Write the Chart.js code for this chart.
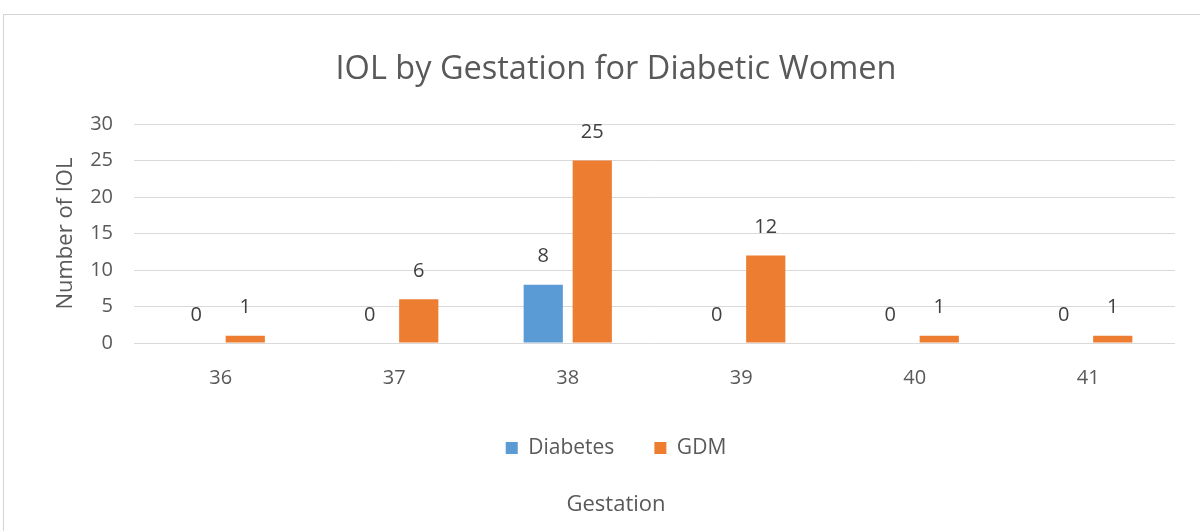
<!DOCTYPE html>
<html>
<head>
<meta charset="utf-8">
<script src="https://cdn.jsdelivr.net/npm/chart.js@4"></script>
<style>
  html, body { margin: 0; padding: 0; background: #fff; }
  #wrap { position: relative; width: 1200px; height: 531px; }
  #frame {
    position: absolute; left: 3px; top: 14px; width: 1210px; height: 530px;
    border-left: 1px solid #d4d4d4; border-top: 1px solid #d4d4d4;
    pointer-events: none;
  }
</style>
</head>
<body>
<div id="wrap">
  <canvas id="iolChart" width="1200" height="531"></canvas>
  <div id="frame"></div>
</div>
<script>
// gestation weeks and IOL counts
const gestations = ['36', '37', '38', '39', '40', '41'];
const diabetesCounts = [0, 0, 8, 0, 0, 0];
const gdmCounts = [1, 6, 25, 12, 1, 1];
const yTicks = [0, 5, 10, 15, 20, 25, 30];

const textColor = '#595959';
const fontFamily = '"Open Sans", sans-serif';

// value labels drawn above each bar (like Excel data labels)
const barLabels = {
    id: 'barLabels',
    afterDatasetsDraw(chart) {
        const ctx = chart.ctx;
        ctx.save();
        ctx.font = '20px ' + fontFamily;
        ctx.fillStyle = '#404040';
        ctx.textAlign = 'center';
        ctx.textBaseline = 'middle';
        chart.data.datasets.forEach((ds, i) => {
            chart.getDatasetMeta(i).data.forEach((bar, j) => {
                ctx.fillText(String(ds.data[j]), bar.x, bar.y - 28);
            });
        });
        ctx.restore();
    }
};

new Chart(document.getElementById('iolChart').getContext('2d'), {
    type: 'bar',
    data: {
        labels: gestations,
        datasets: [{
            label: 'Diabetes',
            data: diabetesCounts,
            backgroundColor: '#5b9bd5'
        }, {
            label: 'GDM',
            data: gdmCounts,
            backgroundColor: '#ed7d31'
        }]
    },
    options: {
        responsive: false,
        animation: false,
        categoryPercentage: 0.565,
        barPercentage: 0.8,
        // left padding shifts the centred title / legend to the right like the original
        layout: { padding: { left: 57, right: 25, top: 0, bottom: 0 } },
        plugins: {
            title: {
                display: true,
                text: 'IOL by Gestation for Diabetic Women',
                color: textColor,
                font: { family: fontFamily, size: 32.5, weight: 'normal' },
                padding: { top: 50, bottom: 35 }
            },
            subtitle: {
                display: true,
                position: 'bottom',
                text: 'Gestation',
                color: textColor,
                font: { family: fontFamily, size: 22, weight: 'normal' },
                padding: { top: 23, bottom: 13 }
            },
            legend: {
                position: 'bottom',
                labels: {
                    color: textColor,
                    font: { family: fontFamily, size: 21 },
                    boxWidth: 12,
                    boxHeight: 12,
                    padding: 40
                }
            },
            tooltip: { enabled: false }
        },
        scales: {
            x: {
                grid: { display: false, drawTicks: false },
                border: { display: false },
                ticks: {
                    color: textColor,
                    font: { family: fontFamily, size: 20 },
                    padding: 23
                },
                afterFit(scale) { scale.height = 54.5; }
            },
            y: {
                min: 0,
                max: 30,
                afterBuildTicks(scale) { scale.ticks = yTicks.map(v => ({ value: v })); },
                afterFit(scale) { scale.width = 77; },
                grid: { color: '#d9d9d9', drawTicks: false },
                border: { display: false },
                ticks: {
                    color: textColor,
                    font: { family: fontFamily, size: 20 },
                    padding: 21
                },
                title: {
                    display: true,
                    text: 'Number of IOL',
                    color: textColor,
                    font: { family: fontFamily, size: 22 },
                    padding: { top: -4.2, bottom: 0 }
                }
            }
        }
    },
    plugins: [barLabels]
});
</script>
</body>
</html>
